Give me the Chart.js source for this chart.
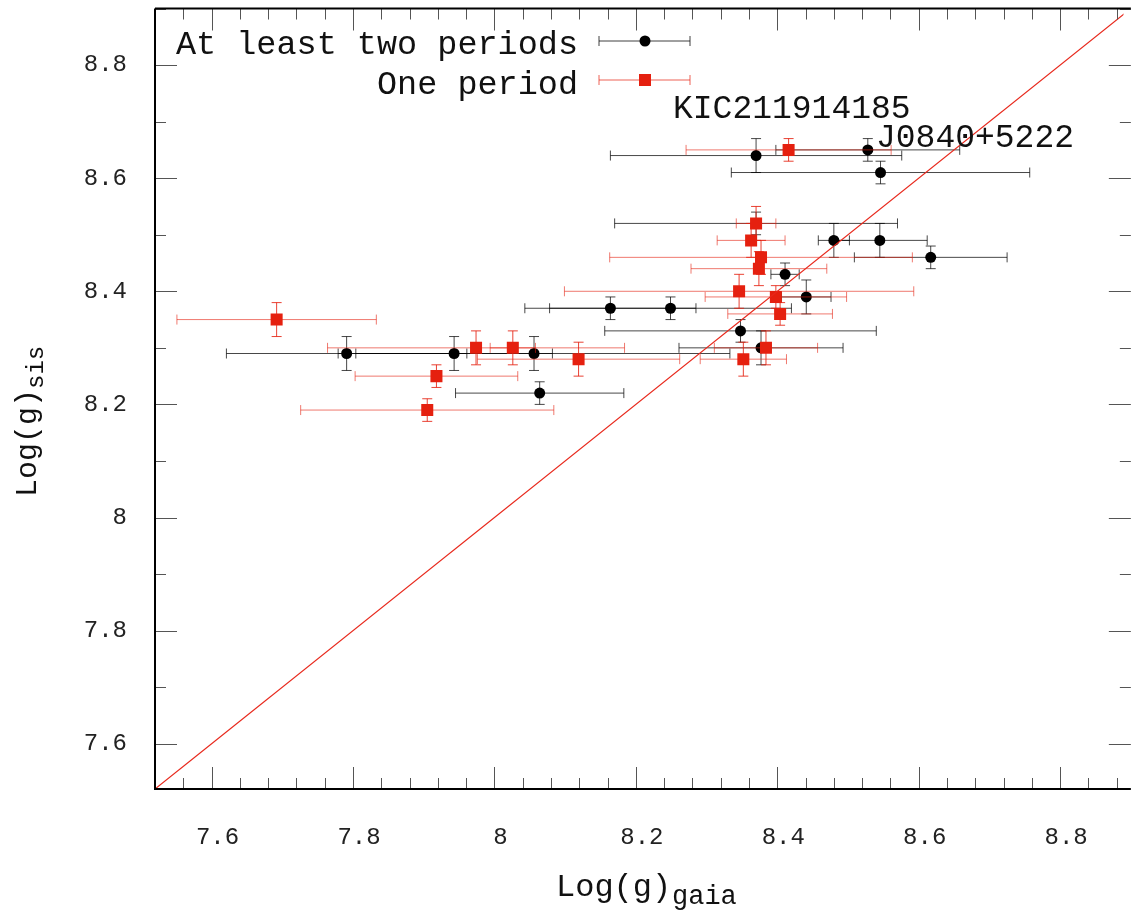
<!DOCTYPE html>
<html>
<head>
<meta charset="utf-8">
<script src="https://cdn.jsdelivr.net/npm/chart.js@4.4.1/dist/chart.umd.min.js"></script>
<style>
  html, body { margin: 0; padding: 0; background: #fff; }
  #wrap { width: 1132px; height: 911px; }
</style>
</head>
<body>
<div id="wrap"><canvas id="logg" width="1132" height="911"></canvas></div>
<script>
// --- data ---
// "At least two periods" (black circles)
const twoX    = [8.370, 8.528, 8.546, 8.370, 8.480, 8.545, 8.617, 8.411, 8.441, 8.164, 8.249, 8.348, 8.377, 7.791, 7.943, 8.056, 8.064];
const twoY    = [8.64,  8.65,  8.61,  8.52,  8.49,  8.49,  8.46,  8.43,  8.39,  8.37,  8.37,  8.33,  8.30,  8.29,  8.29,  8.29,  8.22];
const twoXErr = [0.206, 0.130, 0.211, 0.200, 0.022, 0.067, 0.108, 0.020, 0.035, 0.121, 0.171, 0.192, 0.116, 0.170, 0.139, 0.277, 0.119];
const twoYErr = [0.03,  0.02,  0.02,  0.02,  0.03,  0.03,  0.02,  0.02,  0.03,  0.02,  0.02,  0.02,  0.03,  0.03,  0.03,  0.03,  0.02];

// "One period" (red squares)
const oneX    = [8.416, 8.370, 8.363, 8.377, 8.374, 8.346, 8.398, 8.404, 8.384, 8.352, 8.119, 7.974, 8.026, 7.692, 7.918, 7.905];
const oneY    = [8.65,  8.52,  8.49,  8.46,  8.44,  8.40,  8.39,  8.36,  8.30,  8.28,  8.28,  8.30,  8.30,  8.35,  8.25,  8.19];
const oneXErr = [0.145, 0.028, 0.048, 0.214, 0.096, 0.247, 0.100, 0.074, 0.073, 0.061, 0.143, 0.210, 0.032, 0.141, 0.115, 0.179];
const oneYErr = [0.02,  0.03,  0.03,  0.03,  0.03,  0.03,  0.02,  0.02,  0.03,  0.03,  0.03,  0.03,  0.03,  0.03,  0.02,  0.02];

// one-to-one line
const diagX = [7.5, 9.0];

// tick labels
const xTickVals   = [7.6, 7.8, 8.0, 8.2, 8.4, 8.6, 8.8];
const xTickLabels = ['7.6', '7.8', '8', '8.2', '8.4', '8.6', '8.8'];
const yTickVals   = [7.6, 7.8, 8.0, 8.2, 8.4, 8.6, 8.8];
const yTickLabels = ['7.6', '7.8', '8', '8.2', '8.4', '8.6', '8.8'];

// labelled objects
const notes = [
    { text: 'KIC211914185', x: 673, y: 118 },
    { text: 'J0840+5222',   x: 876, y: 147 }
];

const MONO = '"Liberation Mono", "DejaVu Sans Mono", monospace';
const RED = '#e5200f';

function makePoints(xs, ys, xe, ye) {
    return xs.map((v, i) => ({ x: v, y: ys[i], xe: xe[i], ye: ye[i] }));
}

function drawErrBar(ctx, xs, ys, p, colX, colY) {
    const px = xs.getPixelForValue(p.x), py = ys.getPixelForValue(p.y);
    const x0 = xs.getPixelForValue(p.x - p.xe), x1 = xs.getPixelForValue(p.x + p.xe);
    const y0 = ys.getPixelForValue(p.y - p.ye), y1 = ys.getPixelForValue(p.y + p.ye);
    ctx.strokeStyle = colX;
    ctx.beginPath();
    ctx.moveTo(x0, py); ctx.lineTo(x1, py);
    ctx.moveTo(x0, py - 5); ctx.lineTo(x0, py + 5);
    ctx.moveTo(x1, py - 5); ctx.lineTo(x1, py + 5);
    ctx.stroke();
    ctx.strokeStyle = colY;
    ctx.beginPath();
    ctx.moveTo(px, y0); ctx.lineTo(px, y1);
    ctx.moveTo(px - 5, y0); ctx.lineTo(px + 5, y0);
    ctx.moveTo(px - 5, y1); ctx.lineTo(px + 5, y1);
    ctx.stroke();
}

// error bars go right under each dataset's own markers
const errorBars = {
    id: 'errorBars',
    beforeDatasetDraw(chart, args) {
        const ds = chart.data.datasets[args.index];
        if (!ds.errX) return;
        const ctx = chart.ctx;
        ctx.save();
        ctx.lineWidth = 1;
        ds.data.forEach(p => drawErrBar(ctx, chart.scales.x, chart.scales.y, p, ds.errX, ds.errY));
        ctx.restore();
    }
};

// gnuplot-like frame, inward ticks, legend, titles
const frame = {
    id: 'frame',
    afterDraw(chart) {
        const ctx = chart.ctx;
        const xs = chart.scales.x, ys = chart.scales.y;
        const a = chart.chartArea;
        const xRight = xs.getPixelForValue(8.9);
        ctx.save();

        // minor / major ticks
        ctx.lineWidth = 1;
        ctx.strokeStyle = '#555';
        ctx.beginPath();
        for (let k = 1; k <= 34; k++) {
            const v = 7.52 + 0.04 * k;
            const px = Math.round(xs.getPixelForValue(v)) + 0.5;
            const major = Math.abs(v * 5 - Math.round(v * 5)) < 1e-6;
            const len = major ? 22 : 11;
            ctx.moveTo(px, a.bottom); ctx.lineTo(px, a.bottom - len);
            ctx.moveTo(px, a.top); ctx.lineTo(px, a.top + len);
        }
        for (let k = 0; k <= 13; k++) {
            const v = 7.6 + 0.1 * k;
            const py = Math.round(ys.getPixelForValue(v)) + 0.5;
            const major = k % 2 === 0;
            const len = major ? 22 : 11;
            ctx.moveTo(a.left, py); ctx.lineTo(a.left + len, py);
            ctx.moveTo(xRight, py); ctx.lineTo(xRight - len, py);
        }
        ctx.stroke();

        // axis lines
        ctx.lineWidth = 2;
        ctx.strokeStyle = '#000';
        ctx.beginPath();
        ctx.moveTo(a.left, a.top); ctx.lineTo(a.left, a.bottom); ctx.lineTo(xRight, a.bottom);
        ctx.moveTo(a.left, a.top); ctx.lineTo(xRight, a.top);
        ctx.stroke();

        // legend
        ctx.fillStyle = '#111';
        ctx.font = '33.5px ' + MONO;
        ctx.textAlign = 'right';
        ctx.textBaseline = 'alphabetic';
        ctx.fillText('At least two periods', 578, 54);
        ctx.fillText('One period', 578, 94);
        const legendRows = [
            { y: 41, col: 'rgba(0,0,0,0.75)', style: 'circle' },
            { y: 80, col: 'rgba(229,32,15,0.7)', style: 'rect' }
        ];
        ctx.lineWidth = 1;
        legendRows.forEach(r => {
            ctx.strokeStyle = r.col;
            ctx.beginPath();
            ctx.moveTo(599, r.y); ctx.lineTo(690, r.y);
            ctx.moveTo(599, r.y - 5); ctx.lineTo(599, r.y + 5);
            ctx.moveTo(690, r.y - 5); ctx.lineTo(690, r.y + 5);
            ctx.stroke();
            if (r.style === 'circle') {
                ctx.fillStyle = '#000';
                ctx.beginPath(); ctx.arc(645, r.y, 5.5, 0, Math.PI * 2); ctx.fill();
            } else {
                ctx.fillStyle = RED;
                ctx.fillRect(639, r.y - 6, 12, 12);
            }
        });

        // object labels
        ctx.fillStyle = '#111';
        ctx.textAlign = 'left';
        ctx.font = '33px ' + MONO;
        notes.forEach(n => ctx.fillText(n.text, n.x, n.y));

        // axis titles with subscripts
        ctx.font = '32px ' + MONO;
        ctx.fillText('Log(g)', 556, 896);
        ctx.font = '27px ' + MONO;
        ctx.fillText('gaia', 672, 904);

        ctx.translate(36, 497);
        ctx.rotate(-Math.PI / 2);
        ctx.font = '30px ' + MONO;
        ctx.fillText('Log(g)', 0, 0);
        ctx.font = '24px ' + MONO;
        ctx.fillText('sis', 108, 7);

        ctx.restore();
    }
};

new Chart(document.getElementById('logg'), {
    type: 'scatter',
    data: {
        datasets: [
            {
                label: 'one-to-one',
                type: 'line',
                data: diagX.map(v => ({ x: v, y: v })),
                borderColor: '#e8281c',
                borderWidth: 1.2,
                pointRadius: 0,
                fill: false,
                order: 0
            },
            {
                label: 'One period',
                data: makePoints(oneX, oneY, oneXErr, oneYErr),
                pointStyle: 'rect',
                pointRadius: 8.5,
                backgroundColor: RED,
                borderWidth: 0,
                errX: 'rgba(229,32,15,0.6)',
                errY: 'rgba(229,32,15,0.85)',
                order: 1
            },
            {
                label: 'At least two periods',
                data: makePoints(twoX, twoY, twoXErr, twoYErr),
                pointStyle: 'circle',
                pointRadius: 5.5,
                backgroundColor: '#000',
                borderWidth: 0,
                errX: 'rgba(0,0,0,0.72)',
                errY: 'rgba(0,0,0,0.72)',
                order: 2
            }
        ]
    },
    options: {
        responsive: false,
        animation: false,
        devicePixelRatio: 1,
        layout: { padding: { top: 8, right: 0, left: 0, bottom: 0 } },
        plugins: { legend: { display: false }, tooltip: { enabled: false } },
        scales: {
            x: {
                type: 'linear',
                min: 7.52,
                max: 8.8896,
                grid: { display: false },
                border: { display: false },
                afterBuildTicks: s => { s.ticks = xTickVals.map(v => ({ value: v })); },
                afterFit: s => { s.height = 122; s.paddingLeft = 0; s.paddingRight = 0; },
                ticks: {
                    callback: (v, i) => xTickLabels[i],
                    padding: 26,
                    labelOffset: 6,
                    maxRotation: 0,
                    color: '#222',
                    font: { family: MONO, size: 24 }
                }
            },
            y: {
                type: 'linear',
                min: 7.52,
                max: 8.9,
                grid: { display: false },
                border: { display: false },
                afterBuildTicks: s => { s.ticks = yTickVals.map(v => ({ value: v })); },
                afterFit: s => { s.width = 155; s.paddingTop = 0; s.paddingBottom = 0; },
                ticks: {
                    callback: (v, i) => yTickLabels[i],
                    padding: 20,
                    color: '#222',
                    font: { family: MONO, size: 24 }
                }
            }
        }
    },
    plugins: [errorBars, frame]
});
</script>
</body>
</html>
